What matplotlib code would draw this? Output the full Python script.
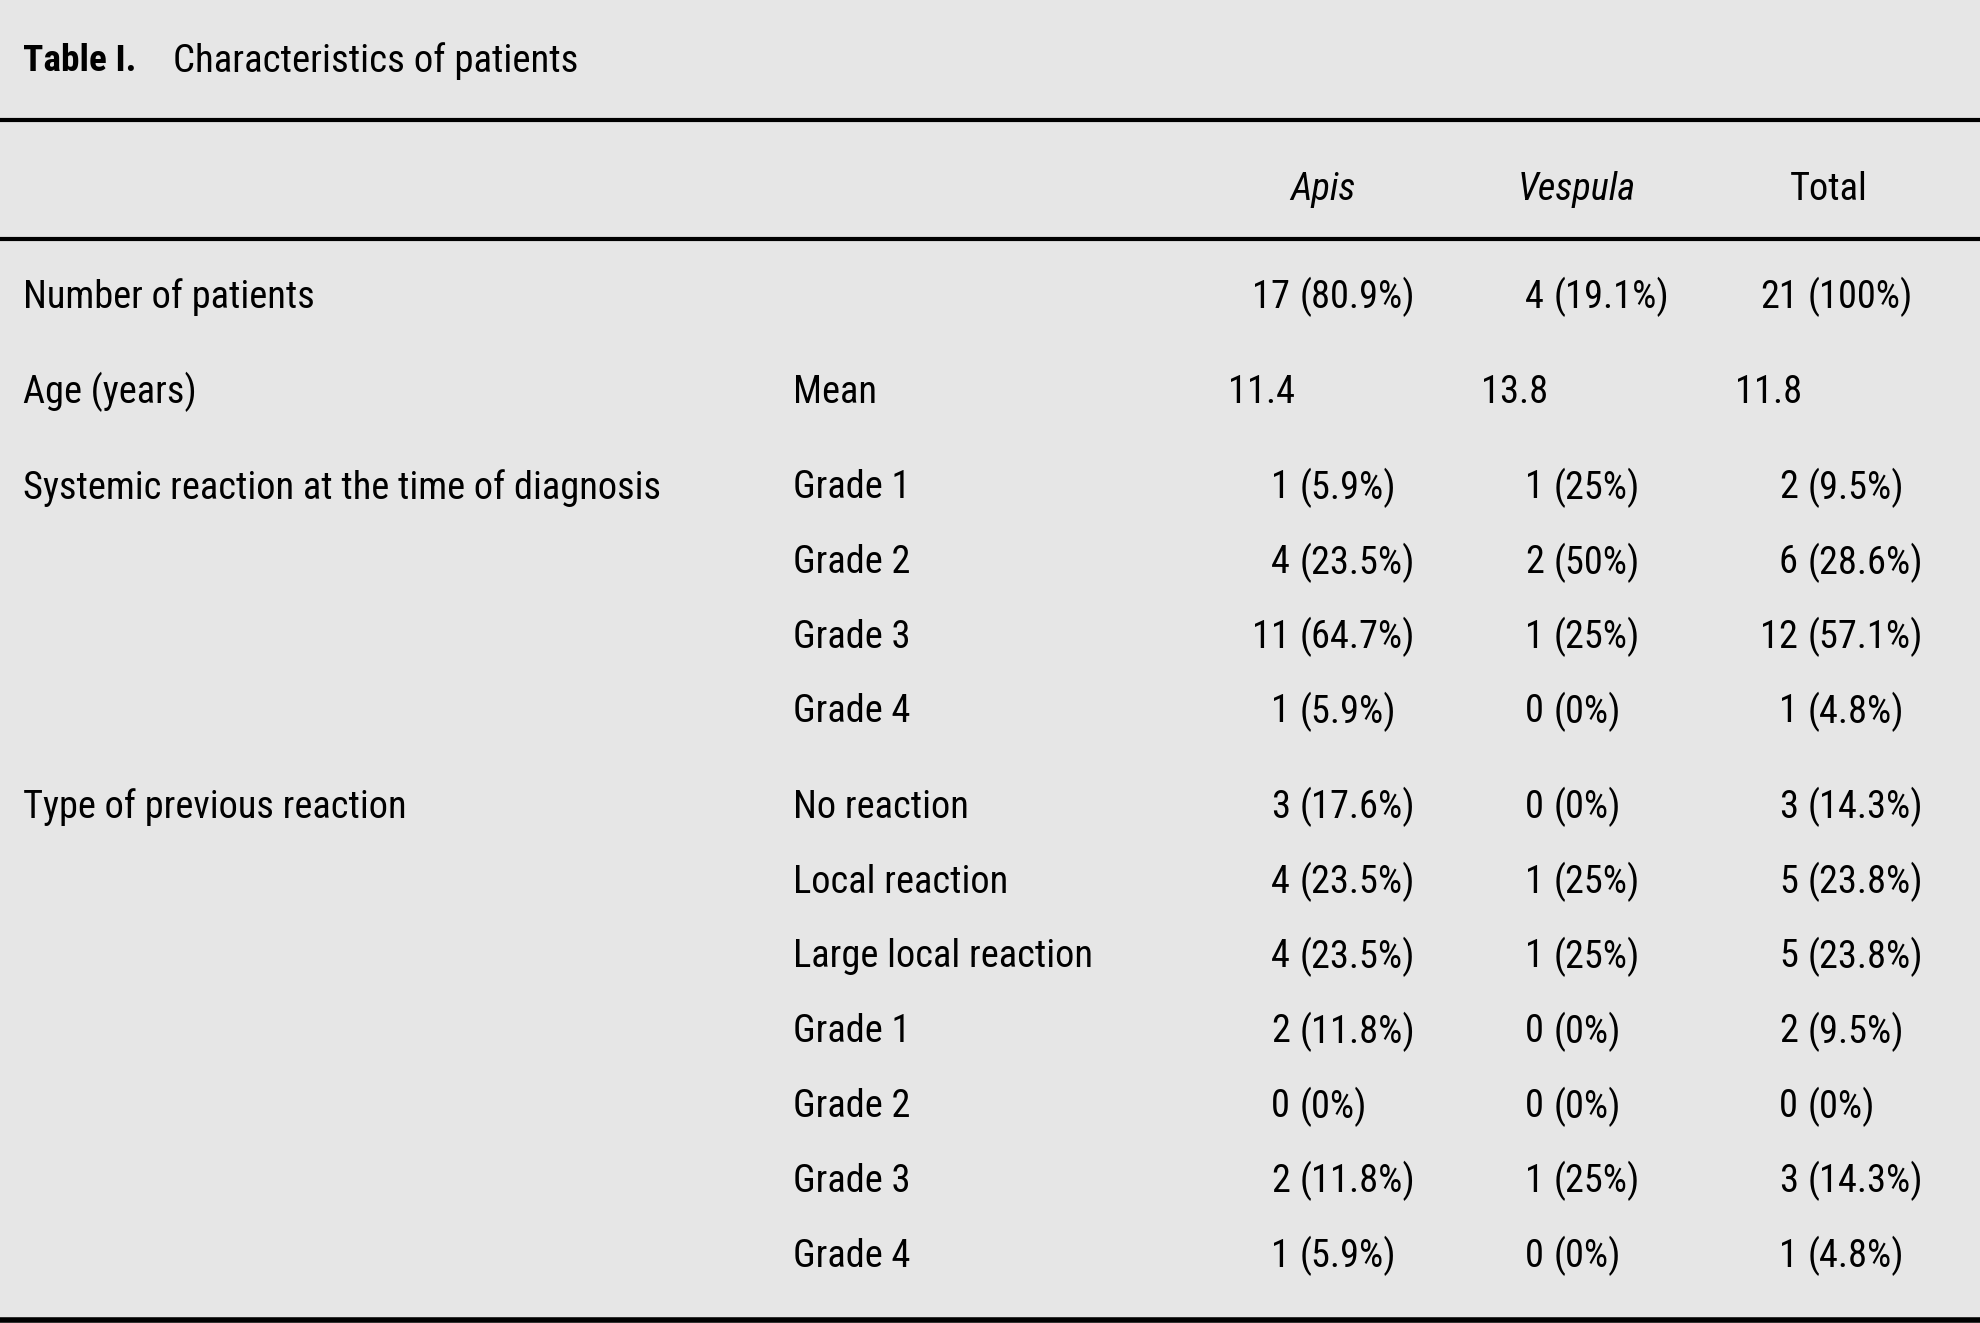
import matplotlib
matplotlib.use("Agg")
from matplotlib import pyplot as plt
from matplotlib import font_manager

BG = "#e6e6e6"

title_bold = "Table I."
title_text = "Characteristics of patients"
columns = ["Apis", "Vespula", "Total"]

row_labels = ["Number of patients", "Systemic reaction at the time of diagnosis",
              "", "", "", "Type of previous reaction", "", "", "", "", "", ""]
sub_labels = ["", "Grade 1", "Grade 2", "Grade 3", "Grade 4",
              "No reaction", "Local reaction", "Large local reaction",
              "Grade 1", "Grade 2", "Grade 3", "Grade 4"]

apis_n = [17, 1, 4, 11, 1, 3, 4, 4, 2, 0, 2, 1]
apis_pct = [80.9, 5.9, 23.5, 64.7, 5.9, 17.6, 23.5, 23.5, 11.8, 0, 11.8, 5.9]
vespula_n = [4, 1, 2, 1, 0, 0, 1, 1, 0, 0, 1, 0]
vespula_pct = [19.1, 25, 50, 25, 0, 0, 25, 25, 0, 0, 25, 0]
total_n = [21, 2, 6, 12, 1, 3, 5, 5, 2, 0, 3, 1]
total_pct = [100, 9.5, 28.6, 57.1, 4.8, 14.3, 23.8, 23.8, 9.5, 0, 14.3, 4.8]

age_label = "Age (years)"
age_sub = "Mean"
age_mean = [11.4, 13.8, 11.8]


def pickFont():
    # look for a narrow/condensed sans, the original uses one
    names = set(f.name for f in font_manager.fontManager.ttflist)
    prefer = ["Noto Sans ExtraCondensed", "Noto Sans Condensed", "Liberation Sans Narrow",
              "Roboto Condensed", "Open Sans Condensed", "DejaVu Sans Condensed",
              "Noto Sans SemiCondensed", "Open Sans SemiCondensed"]
    for p in prefer:
        if p in names:
            return {"family": p}
    for f in font_manager.fontManager.ttflist:
        if "Sans" in f.name and f.stretch in ("condensed", "extra-condensed", 300, 200, 100):
            return {"family": f.name, "fontstretch": f.stretch}
    return {"family": "DejaVu Sans"}


def fitSize(ax, renderer, text, target_w, font, weight="normal"):
    t = ax.text(0, 0, text, fontsize=20, fontweight=weight, **font)
    w = t.get_window_extent(renderer).width
    t.remove()
    return 20 * target_w / w


def drawTable():
    fig = plt.figure(figsize=(19.81, 13.23), dpi=100, facecolor=BG)
    ax = fig.add_axes([0, 0, 1, 1])
    ax.set_xlim(0, 1981)
    ax.set_ylim(1323, 0)
    ax.axis("off")
    ax.set_facecolor(BG)

    font = pickFont()
    renderer = fig.canvas.get_renderer()
    fs = min(fitSize(ax, renderer, row_labels[1], 638, font), 33)
    tfs = min(fitSize(ax, renderer, title_text, 405, font), 38)
    bfs = min(fitSize(ax, renderer, title_bold, 113, font, "bold"), 38)

    dy = 3  # small nudge, text centers sit a bit low in the original

    # title
    ax.text(23, 58 + dy, title_bold, fontsize=bfs, fontweight="bold",
            va="center", ha="left", **font)
    ax.text(173, 58 + dy, title_text, fontsize=tfs, va="center", ha="left", **font)

    ax.axhline(120, color="black", lw=3)
    ax.axhline(239, color="black", lw=3)
    ax.axhline(1320, color="black", lw=4)

    col_center = [1323, 1577, 1829]
    col_right = [1290, 1544, 1798]
    col_mean = [1228, 1481, 1735]
    for name, xc in zip(columns, col_center):
        style = "italic" if name != "Total" else "normal"
        ax.text(xc, 186 + dy, name, fontsize=fs, style=style,
                va="center", ha="center", **font)

    # row y positions
    step = 74.8
    gap = 20.5
    ys = []
    y = 294 + dy
    ys.append(y)
    y_age = y + step + gap
    y = y_age + step + gap
    for i in range(1, len(row_labels)):
        if i == 5:
            y += gap
        ys.append(y)
        y += step

    ax.text(23, y_age, age_label, fontsize=fs, va="center", ha="left", **font)
    ax.text(793, y_age, age_sub, fontsize=fs, va="center", ha="left", **font)
    for v, x in zip(age_mean, col_mean):
        ax.text(x, y_age, f"{v:.1f}", fontsize=fs, va="center", ha="left", **font)

    series = [(apis_n, apis_pct), (vespula_n, vespula_pct), (total_n, total_pct)]
    for i, yy in enumerate(ys):
        if row_labels[i]:
            ax.text(23, yy, row_labels[i], fontsize=fs, va="center", ha="left", **font)
        if sub_labels[i]:
            ax.text(793, yy, sub_labels[i], fontsize=fs, va="center", ha="left", **font)
        for (ns, ps), xr in zip(series, col_right):
            ax.text(xr, yy, str(ns[i]), fontsize=fs, va="center", ha="right", **font)
            ax.text(xr + 10, yy, f"({ps[i]:g}%)", fontsize=fs,
                    va="center", ha="left", **font)

    fig.savefig("out.png", dpi=100, facecolor=BG)


if __name__ == '__main__':
    drawTable()
